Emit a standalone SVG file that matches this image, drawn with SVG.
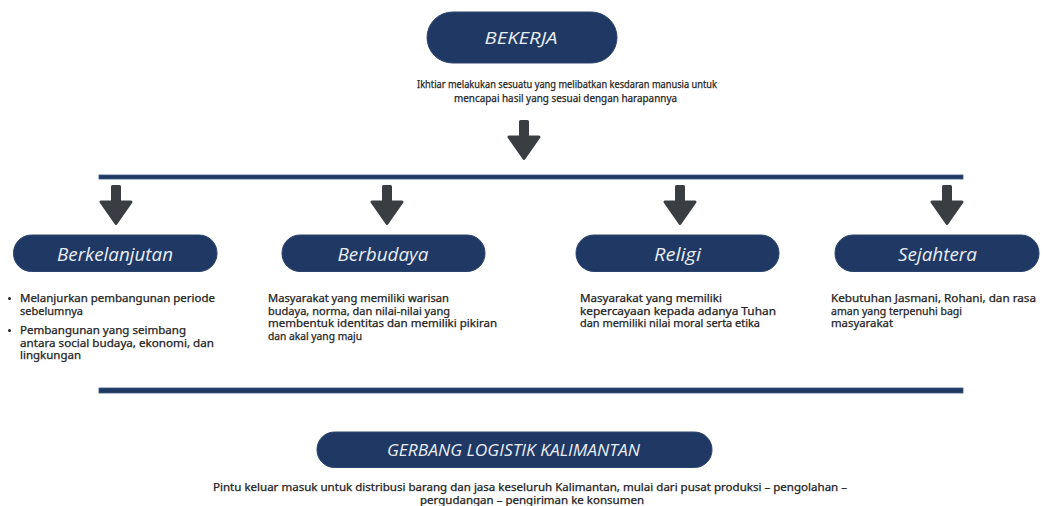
<svg xmlns="http://www.w3.org/2000/svg" width="1043" height="506" viewBox="0 0 1043 506">
<defs>
<style>
.pill{fill:#203864;stroke:#2a4470;stroke-width:1}
.pt{font-family:"Open Sans","Noto Sans",sans-serif;font-style:italic;fill:#e8edf4;text-anchor:middle}
.body{font-family:"Noto Sans","Open Sans",sans-serif;font-size:10px;fill:#252525;stroke:#252525;stroke-width:0.25}
.bar{fill:#1f3864;stroke:#3a5680;stroke-width:0.8}
.arr{fill:#3a3e42;stroke:#3a3e42;stroke-width:3;stroke-linejoin:round}
</style>
<path id="arrow" class="arr" d="M-3.5,1.5 L3.5,1.5 L3.5,17 L15,17 L0,38.5 L-15,17 L-3.5,17 Z"/>
</defs>
<rect width="1043" height="506" fill="#ffffff"/>

<g id="connectors">
<use href="#arrow" x="524" y="120"/>
<rect class="bar" x="99" y="175" width="864" height="4"/>
<use href="#arrow" x="116" y="185"/>
<use href="#arrow" x="387" y="185"/>
<use href="#arrow" x="680" y="185"/>
<use href="#arrow" x="947" y="185"/>
<rect class="bar" x="99" y="388" width="864" height="5"/>
</g>

<g id="bekerja">
<rect class="pill" x="427" y="12" width="190" height="51" rx="25.5"/>
<text class="pt" x="521" y="44" font-size="17" textLength="73" lengthAdjust="spacingAndGlyphs">BEKERJA</text>
<text class="body" x="417" y="88" textLength="300" lengthAdjust="spacingAndGlyphs">Ikhtiar melakukan sesuatu yang melibatkan kesdaran manusia untuk</text>
<text class="body" x="454" y="102" textLength="223" lengthAdjust="spacingAndGlyphs">mencapai hasil yang sesuai dengan harapannya</text>
</g>

<g id="berkelanjutan">
<rect class="pill" x="13.5" y="235" width="203.5" height="36.5" rx="18"/>
<text class="pt" x="115" y="261" font-size="18" textLength="116" lengthAdjust="spacingAndGlyphs">Berkelanjutan</text>
<circle cx="9.5" cy="298.5" r="1.5" fill="#252525"/>
<circle cx="9.5" cy="330.5" r="1.5" fill="#252525"/>
<text class="body" x="20" y="302" textLength="195" lengthAdjust="spacingAndGlyphs">Melanjurkan pembangunan periode</text>
<text class="body" x="20" y="314.5" textLength="63" lengthAdjust="spacingAndGlyphs">sebelumnya</text>
<text class="body" x="20" y="334" textLength="166" lengthAdjust="spacingAndGlyphs">Pembangunan yang seimbang</text>
<text class="body" x="20" y="346.5" textLength="194" lengthAdjust="spacingAndGlyphs">antara social budaya, ekonomi, dan</text>
<text class="body" x="20" y="359" textLength="61" lengthAdjust="spacingAndGlyphs">lingkungan</text>
</g>

<g id="berbudaya">
<rect class="pill" x="282" y="235" width="203" height="36.5" rx="18"/>
<text class="pt" x="383" y="261" font-size="18" textLength="91" lengthAdjust="spacingAndGlyphs">Berbudaya</text>
<text class="body" x="268" y="302" textLength="181" lengthAdjust="spacingAndGlyphs">Masyarakat yang memiliki  warisan</text>
<text class="body" x="268" y="314.5" textLength="182" lengthAdjust="spacingAndGlyphs">budaya, norma, dan nilai-nilai yang</text>
<text class="body" x="268" y="327" textLength="229" lengthAdjust="spacingAndGlyphs">membentuk identitas dan memiliki pikiran</text>
<text class="body" x="268" y="339.5" textLength="94" lengthAdjust="spacingAndGlyphs">dan akal yang maju</text>
</g>

<g id="religi">
<rect class="pill" x="576" y="235" width="203" height="36.5" rx="18"/>
<text class="pt" x="677.5" y="261" font-size="18" textLength="47" lengthAdjust="spacingAndGlyphs">Religi</text>
<text class="body" x="580" y="302" textLength="142" lengthAdjust="spacingAndGlyphs">Masyarakat yang memiliki</text>
<text class="body" x="580" y="314.5" textLength="196" lengthAdjust="spacingAndGlyphs">kepercayaan kepada adanya Tuhan</text>
<text class="body" x="580" y="327" textLength="180" lengthAdjust="spacingAndGlyphs">dan memiliki nilai moral serta etika</text>
</g>

<g id="sejahtera">
<rect class="pill" x="835" y="235" width="204" height="36.5" rx="18"/>
<text class="pt" x="937.5" y="261" font-size="18" textLength="79" lengthAdjust="spacingAndGlyphs">Sejahtera</text>
<text class="body" x="831" y="302" textLength="205" lengthAdjust="spacingAndGlyphs">Kebutuhan Jasmani, Rohani, dan rasa</text>
<text class="body" x="831" y="314.5" textLength="131" lengthAdjust="spacingAndGlyphs">aman yang terpenuhi bagi</text>
<text class="body" x="831" y="327" textLength="62" lengthAdjust="spacingAndGlyphs">masyarakat</text>
</g>

<g id="gerbang">
<rect class="pill" x="317" y="432" width="395" height="35.5" rx="17.5"/>
<text class="pt" x="513.5" y="456" font-size="16" textLength="253" lengthAdjust="spacingAndGlyphs">GERBANG LOGISTIK KALIMANTAN</text>
<text class="body" x="213" y="491" textLength="634" lengthAdjust="spacingAndGlyphs">Pintu keluar masuk untuk distribusi barang dan jasa keseluruh Kalimantan, mulai dari pusat produksi – pengolahan –</text>
<text class="body" x="420" y="503.5" textLength="224" lengthAdjust="spacingAndGlyphs">pergudangan – pengiriman ke konsumen</text>
</g>
</svg>
